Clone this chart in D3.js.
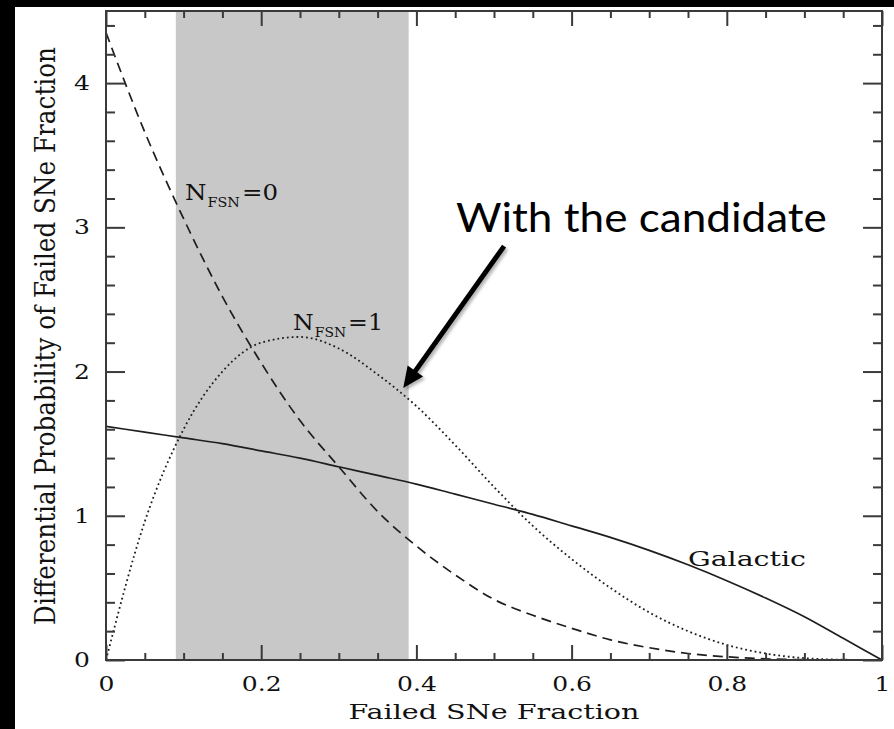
<!DOCTYPE html>
<html>
<head>
<meta charset="utf-8">
<script src="https://cdn.jsdelivr.net/npm/d3@7"></script>
<style>
  body { margin: 0; background: #000; }
  svg { display: block; }
</style>
</head>
<body>
<svg id="chart" width="894" height="729"></svg>
<script>
// Failed-SN fraction grid (x) and the three differential probability curves
const fraction = [0, 0.05, 0.1, 0.15, 0.2, 0.25, 0.3, 0.35, 0.4, 0.45, 0.5,
                  0.55, 0.6, 0.65, 0.7, 0.75, 0.8, 0.85, 0.9, 0.95, 1];
const galactic = [1.62, 1.58, 1.54, 1.50, 1.45, 1.40, 1.34, 1.28, 1.22, 1.15, 1.08,
                  1.01, 0.93, 0.85, 0.76, 0.66, 0.55, 0.43, 0.30, 0.15, 0];
const nfsn0 = [4.35, 3.66, 3.06, 2.52, 2.06, 1.66, 1.34, 1.03, 0.79, 0.59, 0.42,
               0.31, 0.22, 0.14, 0.085, 0.045, 0.022, 0.008, 0.002, 0.0005, 0];
const nfsn1 = [0, 0.96, 1.60, 2.00, 2.20, 2.24, 2.16, 1.98, 1.76, 1.49, 1.20,
               0.93, 0.70, 0.50, 0.33, 0.20, 0.105, 0.045, 0.013, 0.002, 0];

// Shaded range of the failed fraction
const shadedBand = [0.09, 0.39];

// Tick values
const xMajorTicks = [0, 0.2, 0.4, 0.6, 0.8, 1];
const xMinorTicks = [0.05, 0.1, 0.15, 0.25, 0.3, 0.35, 0.45, 0.5, 0.55, 0.65, 0.7, 0.75, 0.85, 0.9, 0.95];
const yMajorTicks = [0, 1, 2, 3, 4];
const yMinorTicks = [0.2, 0.4, 0.6, 0.8, 1.2, 1.4, 1.6, 1.8, 2.2, 2.4, 2.6, 2.8, 3.2, 3.4, 3.6, 3.8, 4.2, 4.4];

const W = 894, H = 729;
const plot = { left: 106, right: 882, top: 11, bottom: 660 };
const serif = "'DejaVu Serif', 'Liberation Serif', serif";
const ink = "#1e1e1e";
const axisInk = "#3a3a3a";

const svg = d3.select("#chart");

// page background: black surround with a white sheet
svg.append("rect").attr("width", W).attr("height", H).attr("fill", "#000");
svg.append("rect").attr("x", 15).attr("y", 7).attr("width", W - 15).attr("height", H - 7).attr("fill", "#fff");

const x = d3.scaleLinear().domain([0, 1]).range([plot.left, plot.right]);
const y = d3.scaleLinear().domain([0, 4.5]).range([plot.bottom, plot.top]);

// shaded band
svg.append("rect")
  .attr("x", x(shadedBand[0]))
  .attr("y", y(4.5))
  .attr("width", x(shadedBand[1]) - x(shadedBand[0]))
  .attr("height", y(0) - y(4.5))
  .attr("fill", "#c8c8c8");

// curves
const lineGen = d3.line()
  .x((d, i) => x(fraction[i]))
  .y(d => y(d))
  .curve(d3.curveMonotoneX);

const curves = svg.append("g").attr("fill", "none").attr("stroke", ink);
curves.append("path").attr("d", lineGen(galactic)).attr("stroke-width", 1.7);
curves.append("path").attr("d", lineGen(nfsn0)).attr("stroke-width", 1.7).attr("stroke-dasharray", "10,6");
curves.append("path").attr("d", lineGen(nfsn1)).attr("stroke-width", 1.8).attr("stroke-dasharray", "1.8,3");

// axes with inward ticks on all four sides
const fmt = d3.format("~g");
function drawAxis(axis, tx, ty) {
  const g = svg.append("g").attr("transform", `translate(${tx},${ty})`).call(axis);
  g.select(".domain").remove();
  g.selectAll(".tick line").attr("stroke", axisInk).attr("stroke-width", 2);
  g.selectAll("text").attr("font-family", serif).attr("font-size", 20.5).attr("fill", "#111");
  return g;
}
const tickStretch = 1.22;
const bottomMajor = drawAxis(d3.axisBottom(x).tickValues(xMajorTicks).tickSize(-15).tickPadding(16).tickFormat(fmt), 0, plot.bottom);
bottomMajor.selectAll("text").attr("transform", `scale(${tickStretch},1)`);
drawAxis(d3.axisBottom(x).tickValues(xMinorTicks).tickSize(-7).tickFormat(""), 0, plot.bottom);
drawAxis(d3.axisTop(x).tickValues(xMajorTicks).tickSize(-15).tickFormat(""), 0, plot.top);
drawAxis(d3.axisTop(x).tickValues(xMinorTicks).tickSize(-7).tickFormat(""), 0, plot.top);

const leftMajor = drawAxis(d3.axisLeft(y).tickValues(yMajorTicks).tickSize(-19).tickPadding(16).tickFormat(fmt), plot.left, 0);
leftMajor.selectAll("text").attr("x", -16 / tickStretch).attr("transform", `scale(${tickStretch},1)`);
drawAxis(d3.axisLeft(y).tickValues(yMinorTicks).tickSize(-9).tickFormat(""), plot.left, 0);
drawAxis(d3.axisRight(y).tickValues(yMajorTicks).tickSize(-19).tickFormat(""), plot.right, 0);
drawAxis(d3.axisRight(y).tickValues(yMinorTicks).tickSize(-9).tickFormat(""), plot.right, 0);

// frame
svg.append("rect")
  .attr("x", plot.left).attr("y", plot.top)
  .attr("width", plot.right - plot.left).attr("height", plot.bottom - plot.top)
  .attr("fill", "none").attr("stroke", axisInk).attr("stroke-width", 2);

// text placed at (px, py) and stretched along its length to a given span
function stretchedText(px, py, build, span, opts = {}) {
  const rot = opts.rotate || 0;
  const g = svg.append("g");
  const t = g.append("text")
    .attr("font-family", opts.family || serif)
    .attr("font-size", opts.size || 20.5)
    .attr("fill", opts.fill || "#111")
    .attr("text-anchor", opts.anchor || "start");
  build(t);
  const natural = t.node().getComputedTextLength();
  const along = span / natural;
  const across = opts.across || 1;
  g.attr("transform", `translate(${px},${py}) rotate(${rot}) scale(${along},${across})`);
  return g;
}

// axis titles
stretchedText((plot.left + plot.right) / 2, 719, t => t.text("Failed SNe Fraction"), 291, { anchor: "middle" });
stretchedText(55, 336, t => t.text("Differential Probability of Failed SNe Fraction"), 578,
  { anchor: "middle", rotate: -90, across: 1.35 });

// curve labels
function nLabel(t, value) {
  t.append("tspan").text("N");
  t.append("tspan").attr("font-size", 13.5).attr("dy", 7).attr("dx", 1).text("FSN");
  t.append("tspan").attr("dy", -7).attr("dx", 2).text("=" + value);
}
stretchedText(x(0.1018), y(3.189), t => nLabel(t, "0"), 90, { size: 23 });
stretchedText(x(0.241), y(2.288), t => nLabel(t, "1"), 87, { size: 23 });
stretchedText(x(0.75), y(0.652), t => t.text("Galactic"), 118, { size: 21 });

// annotation: arrow pointing at the N_FSN = 1 curve at the band's upper edge
const defs = svg.append("defs");
defs.append("filter").attr("id", "soft-shadow")
  .attr("x", "-20%").attr("y", "-20%").attr("width", "140%").attr("height", "140%")
  .append("feDropShadow")
  .attr("dx", 2).attr("dy", 2.5).attr("stdDeviation", 1.6)
  .attr("flood-color", "#000").attr("flood-opacity", 0.3);

const arrowFrom = { f: 0.513, v: 2.87 };
const arrowTo = { f: 0.383, v: 1.886 };
const x0 = x(arrowFrom.f), y0 = y(arrowFrom.v), x1 = x(arrowTo.f), y1 = y(arrowTo.v);
const ang = Math.atan2(y1 - y0, x1 - x0);
const headLen = 21, headHalf = 9.5;
const arrow = svg.append("g").attr("filter", "url(#soft-shadow)");
arrow.append("line")
  .attr("x1", x0).attr("y1", y0)
  .attr("x2", x1 - Math.cos(ang) * (headLen - 3)).attr("y2", y1 - Math.sin(ang) * (headLen - 3))
  .attr("stroke", "#000").attr("stroke-width", 5);
const bx = x1 - Math.cos(ang) * headLen, by = y1 - Math.sin(ang) * headLen;
arrow.append("path")
  .attr("d", `M${x1},${y1} L${bx + Math.sin(ang) * headHalf},${by - Math.cos(ang) * headHalf} L${bx - Math.sin(ang) * headHalf},${by + Math.cos(ang) * headHalf} Z`)
  .attr("fill", "#000");

stretchedText(x(0.451), y(2.967), t => t.text("With the candidate"), 371,
  { family: "Lato, 'Open Sans', sans-serif", size: 41, fill: "#000" });
</script>
</body>
</html>
